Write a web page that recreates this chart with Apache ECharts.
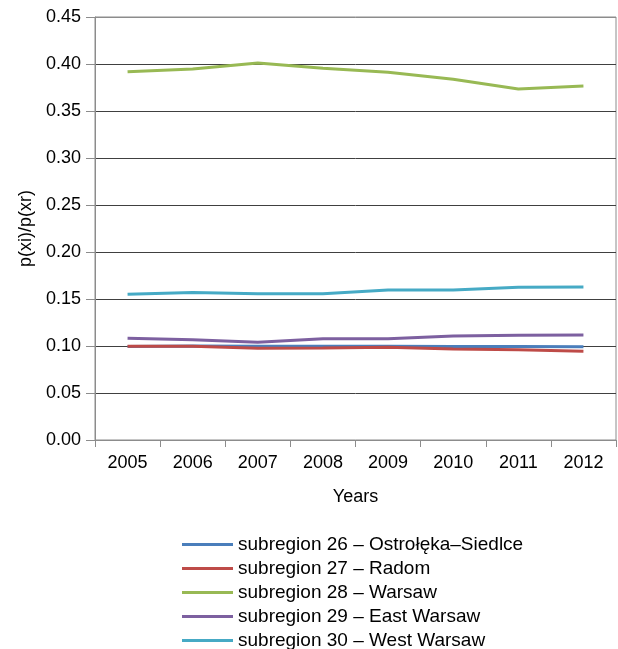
<!DOCTYPE html>
<html>
<head>
<meta charset="utf-8">
<script src="https://cdn.jsdelivr.net/npm/echarts@6/dist/echarts.min.js"></script>
<style>
  html, body { margin: 0; padding: 0; background: #fff; }
  #chart { width: 618px; height: 649px; }
</style>
</head>
<body>
<div id="chart"></div>
<script>
// Years on the horizontal axis
const years = ['2005', '2006', '2007', '2008', '2009', '2010', '2011', '2012'];

// Ratio p(xi)/p(xr) per subregion
const ostrolekaSiedlce = [0.0995, 0.1000, 0.0998, 0.0998, 0.0997, 0.0996, 0.0995, 0.0993];
const radom           = [0.0997, 0.0997, 0.0975, 0.0978, 0.0986, 0.0968, 0.0961, 0.0944];
const warsaw          = [0.3918, 0.3947, 0.4010, 0.3954, 0.3912, 0.3837, 0.3734, 0.3766];
const eastWarsaw      = [0.1082, 0.1067, 0.1039, 0.1078, 0.1078, 0.1106, 0.1114, 0.1117];
const westWarsaw      = [0.1550, 0.1570, 0.1556, 0.1556, 0.1596, 0.1596, 0.1624, 0.1628];

const seriesNames = [
  'subregion 26 \u2013 Ostro\u0142\u0119ka\u2013Siedlce',
  'subregion 27 \u2013 Radom',
  'subregion 28 \u2013 Warsaw',
  'subregion 29 \u2013 East Warsaw',
  'subregion 30 \u2013 West Warsaw'
];
const seriesData = [ostrolekaSiedlce, radom, warsaw, eastWarsaw, westWarsaw];
const colors = ['#4a7ebb', '#be4b48', '#98b954', '#7d60a0', '#46aac5'];

const font = 'Liberation Sans, Arial, sans-serif';
const frameGray = '#8c8c8c';
const gridDark = '#404040';
// inner gridlines dark, outer edges (0 and 0.45) in the frame grey
const splitColors = [frameGray].concat(Array(8).fill(gridDark), [frameGray]);

const chart = echarts.init(document.getElementById('chart'), null, { renderer: 'canvas' });

chart.setOption({
  animation: false,
  color: colors,
  grid: {
    left: 95, right: 2, top: 17, height: 423,
    show: true, borderColor: frameGray, borderWidth: 1, backgroundColor: 'transparent'
  },
  xAxis: {
    type: 'category',
    data: years,
    boundaryGap: true,
    name: 'Years',
    nameLocation: 'middle',
    nameGap: 48,
    nameTextStyle: { fontFamily: font, fontSize: 18, color: '#000' },
    axisLine: { lineStyle: { color: frameGray, width: 1 } },
    axisTick: { show: true, alignWithLabel: false, length: 7, lineStyle: { color: frameGray } },
    axisLabel: { fontFamily: font, fontSize: 18, color: '#000', margin: 14 },
    splitLine: { show: false }
  },
  yAxis: {
    type: 'value',
    min: 0, max: 0.45, interval: 0.05,
    name: 'p(xi)/p(xr)',
    nameLocation: 'middle',
    nameGap: 54,
    nameTextStyle: { fontFamily: font, fontSize: 18, color: '#000' },
    axisLine: { show: true, lineStyle: { color: frameGray, width: 1 } },
    axisTick: { show: true, length: 9, lineStyle: { color: frameGray } },
    axisLabel: {
      fontFamily: font, fontSize: 18, color: '#000', margin: 14,
      formatter: v => v.toFixed(2)
    },
    splitLine: { show: true, lineStyle: { color: splitColors, width: 1 } }
  },
  legend: {
    orient: 'vertical',
    left: 182,
    top: 535,
    height: 140,
    padding: 0,
    icon: 'rect',
    itemWidth: 51,
    itemHeight: 3,
    itemGap: 5,
    textStyle: { fontFamily: font, fontSize: 19, color: '#000', lineHeight: 19 },
    data: seriesNames
  },
  series: seriesNames.map((name, i) => ({
    name: name,
    type: 'line',
    data: seriesData[i],
    symbol: 'none',
    smooth: false,
    lineStyle: { width: 3, color: colors[i] },
    itemStyle: { color: colors[i] }
  }))
});
</script>
</body>
</html>
